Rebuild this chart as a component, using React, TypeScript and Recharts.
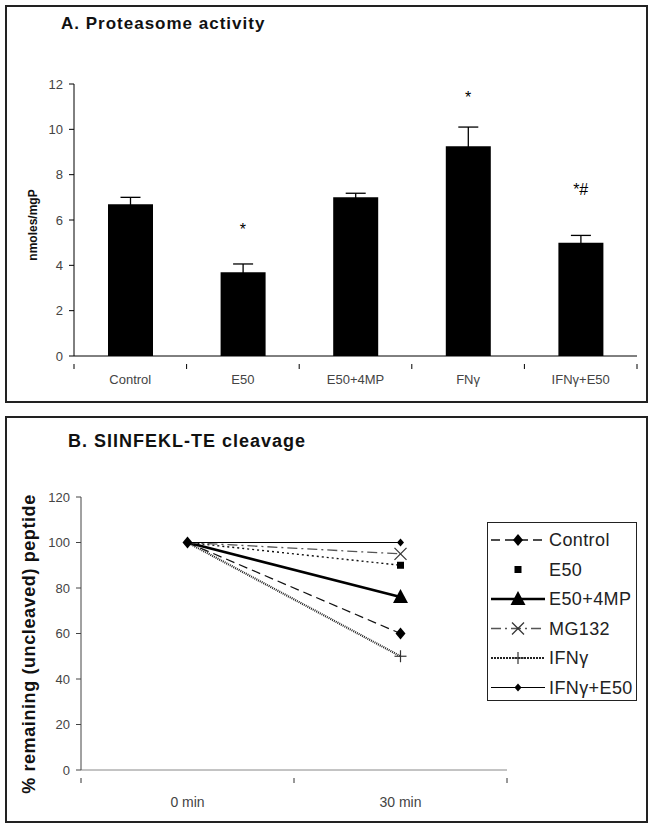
import React from "react";
import {
  ComposedChart,
  LineChart,
  Bar,
  Line,
  Scatter,
  ErrorBar,
  XAxis,
  YAxis,
  Legend,
} from "recharts";

// panel A
const groups = ["Control", "E50", "E50+4MP", "FNγ", "IFNγ+E50"];
const activity = [6.7, 3.7, 7.0, 9.25, 5.0];
const activityErr = [0.3, 0.36, 0.18, 0.85, 0.32];
const marks = ["", "*", "", "*", "*#"];
const markAt = [null, 5.6, null, 11.4, 7.35];
const activityTicks = [0, 2, 4, 6, 8, 10, 12];

// panel B
const times = ["0 min", "30 min"];
const control = [100, 60];
const e50 = [100, 90];
const e50mp = [100, 76];
const mg132 = [100, 95];
const ifng = [100, 50];
const ifngE50 = [100, 100];
const pctTicks = [0, 20, 40, 60, 80, 100, 120];

const FONT = "'Liberation Sans', Arial, sans-serif";
const TICK_FILL = "#444";

const barData = groups.map((g, i) => ({
  name: g,
  value: activity[i],
  err: activityErr[i],
  mark: marks[i],
  markAt: markAt[i],
}));

const lineData = times.map((t, i) => ({
  time: t,
  control: control[i],
  e50: e50[i],
  e50mp: e50mp[i],
  mg132: mg132[i],
  ifng: ifng[i],
  ifngE50: ifngE50[i],
}));

type SeriesDef = {
  key: string;
  name: string;
  marker: string;
  stroke: string;
  width: number;
  dash?: string;
  showLine: boolean;
};

const series: SeriesDef[] = [
  { key: "control", name: "Control", marker: "diamond", stroke: "#111", width: 1.3, dash: "9 5", showLine: true },
  { key: "e50", name: "E50", marker: "square", stroke: "#111", width: 1.4, dash: "2 3", showLine: false },
  { key: "e50mp", name: "E50+4MP", marker: "triangle", stroke: "#000", width: 2.6, showLine: true },
  { key: "mg132", name: "MG132", marker: "x", stroke: "#555", width: 1.3, dash: "10 4 2 4", showLine: true },
  { key: "ifng", name: "IFNγ", marker: "plus", stroke: "#222", width: 2.2, dash: "1 1", showLine: true },
  { key: "ifngE50", name: "IFNγ+E50", marker: "smallDiamond", stroke: "#000", width: 1.2, showLine: true },
];

function Marker({ kind, cx, cy }: { kind: string; cx: number; cy: number }) {
  switch (kind) {
    case "diamond":
      return <path d={`M${cx},${cy - 6}L${cx + 5},${cy}L${cx},${cy + 6}L${cx - 5},${cy}Z`} fill="#000" />;
    case "smallDiamond":
      return <path d={`M${cx},${cy - 4}L${cx + 3.5},${cy}L${cx},${cy + 4}L${cx - 3.5},${cy}Z`} fill="#000" />;
    case "square":
      return <rect x={cx - 3.5} y={cy - 3.5} width={7} height={7} fill="#000" />;
    case "triangle":
      return <path d={`M${cx},${cy - 8}L${cx + 7.5},${cy + 6}L${cx - 7.5},${cy + 6}Z`} fill="#000" />;
    case "x":
      return (
        <g stroke="#333" strokeWidth={1.3}>
          <line x1={cx - 6} y1={cy - 6} x2={cx + 6} y2={cy + 6} />
          <line x1={cx - 6} y1={cy + 6} x2={cx + 6} y2={cy - 6} />
        </g>
      );
    case "plus":
      return (
        <g stroke="#333" strokeWidth={1.2}>
          <line x1={cx - 6} y1={cy} x2={cx + 6} y2={cy} />
          <line x1={cx} y1={cy - 6} x2={cx} y2={cy + 6} />
        </g>
      );
    default:
      return null;
  }
}

function BandTick(props: any) {
  const { x, y, payload, index, visibleTicksCount, stroke, fontSize, gap } = props;
  const half = payload.offset ?? 56;
  const last = index === (visibleTicksCount ?? 0) - 1;
  return (
    <g>
      <line x1={x - half} y1={y} x2={x - half} y2={y + 5} stroke={stroke} />
      {last && <line x1={x + half} y1={y} x2={x + half} y2={y + 5} stroke={stroke} />}
      <text
        x={x}
        y={y + gap}
        textAnchor="middle"
        fontSize={fontSize}
        fontFamily={FONT}
        fill={TICK_FILL}
      >
        {payload.value}
      </text>
    </g>
  );
}

function MarkShape(props: any) {
  const { cx, cy, payload } = props;
  if (!payload || !payload.mark || !isFinite(cy)) return <g />;
  return (
    <text
      x={cx}
      y={cy}
      textAnchor="middle"
      dominantBaseline="central"
      fontSize={16}
      fontFamily={FONT}
      fill="#000"
    >
      {payload.mark}
    </text>
  );
}

function LegendBox() {
  return (
    <div
      style={{
        width: 150,
        height: 179,
        border: "1.5px solid #222",
        boxSizing: "border-box",
        background: "#fff",
      }}
    >
      <svg width={147} height={176}>
        {series.map((s, i) => {
          const cy = 17 + i * 29.5;
          return (
            <g key={s.key}>
              {s.showLine && (
                <line
                  x1={3}
                  y1={cy}
                  x2={57}
                  y2={cy}
                  stroke={s.stroke}
                  strokeWidth={s.width}
                  strokeDasharray={s.key === "ifng" ? "2 1" : s.dash}
                />
              )}
              <Marker kind={s.marker} cx={30} cy={cy} />
              <text
                x={61}
                y={cy}
                dominantBaseline="central"
                fontSize={18}
                letterSpacing={0.4}
                fontFamily={FONT}
                fill="#222"
              >
                {s.name}
              </text>
            </g>
          );
        })}
      </svg>
    </div>
  );
}

const panelStyle: React.CSSProperties = {
  position: "absolute",
  left: 5,
  width: 643,
  border: "2px solid #222",
  boxSizing: "border-box",
};

export default function App() {
  return (
    <div
      style={{
        position: "absolute",
        left: 0,
        top: 0,
        width: 654,
        height: 830,
        background: "#fff",
        fontFamily: FONT,
      }}
    >
      <div style={{ ...panelStyle, top: 5, height: 398 }} />
      <div style={{ ...panelStyle, top: 416, height: 407 }} />

      <div
        style={{
          position: "absolute",
          left: 61,
          top: 14,
          fontSize: 17,
          fontWeight: "bold",
          letterSpacing: 1,
          color: "#111",
        }}
      >
        A. Proteasome activity
      </div>
      <div
        style={{
          position: "absolute",
          left: 68,
          top: 431,
          fontSize: 18,
          fontWeight: "bold",
          letterSpacing: 1,
          color: "#111",
        }}
      >
        B. SIINFEKL-TE cleavage
      </div>

      <div style={{ position: "absolute", left: 0, top: 0 }}>
        <ComposedChart
          width={654}
          height={400}
          data={barData}
          margin={{ top: 84, right: 17, bottom: 14, left: 24 }}
        >
          <XAxis
            dataKey="name"
            height={30}
            stroke="#000"
            tickLine={false}
            interval={0}
            tick={<BandTick stroke="#000" fontSize={13} gap={20} />}
          />
          <YAxis
            width={50}
            domain={[0, 12]}
            ticks={activityTicks}
            stroke="#000"
            tickSize={5}
            tickMargin={6}
            tick={{ fill: TICK_FILL, fontSize: 13, fontFamily: FONT }}
            label={{
              content: () => (
                <text
                  x={33}
                  y={225}
                  transform="rotate(-90, 33, 225)"
                  textAnchor="middle"
                  dominantBaseline="central"
                  fontSize={12}
                  fontWeight="bold"
                  fontFamily={FONT}
                  fill="#111"
                >
                  nmoles/mgP
                </text>
              ),
            }}
          />
          <Bar dataKey="value" fill="#000" barSize={45} isAnimationActive={false}>
            <ErrorBar dataKey="err" width={10} stroke="#000" strokeWidth={1.3} direction="y" />
          </Bar>
          <Scatter dataKey="markAt" shape={<MarkShape />} isAnimationActive={false} />
        </ComposedChart>
      </div>

      <div style={{ position: "absolute", left: 0, top: 416 }}>
        <LineChart
          width={654}
          height={414}
          data={lineData}
          margin={{ top: 81, right: 147, bottom: 30, left: 31 }}
        >
          <XAxis
            dataKey="time"
            scale="band"
            height={30}
            stroke="#888"
            tickLine={false}
            interval={0}
            tick={<BandTick stroke="#333" fontSize={14} gap={29} />}
          />
          <YAxis
            width={50}
            domain={[0, 120]}
            ticks={pctTicks}
            stroke="#444"
            tickSize={5}
            tickMargin={6}
            tick={{ fill: TICK_FILL, fontSize: 13, fontFamily: FONT }}
            label={{
              content: () => (
                <text
                  x={29}
                  y={228}
                  transform="rotate(-90, 29, 228)"
                  textAnchor="middle"
                  dominantBaseline="central"
                  fontSize={18}
                  fontWeight="bold"
                  letterSpacing={0.6}
                  fontFamily={FONT}
                  fill="#111"
                >
                  % remaining (uncleaved) peptide
                </text>
              ),
            }}
          />
          <Legend
            layout="horizontal"
            verticalAlign="middle"
            align="center"
            wrapperStyle={{ left: 487, top: 106, width: 150, height: 179 }}
            content={() => <LegendBox />}
          />
          {series.map((s) => (
            <Line
              key={s.key}
              dataKey={s.key}
              name={s.name}
              stroke={s.stroke}
              strokeWidth={s.width}
              strokeDasharray={s.dash}
              isAnimationActive={false}
              activeDot={false}
              dot={(p: any) => {
                const show = p.index === 1 || (p.index === 0 && s.key === "control");
                return (
                  <g key={`${s.key}-${p.index}`}>
                    {show && <Marker kind={s.marker} cx={p.cx} cy={p.cy} />}
                  </g>
                );
              }}
            />
          ))}
        </LineChart>
      </div>
    </div>
  );
}
